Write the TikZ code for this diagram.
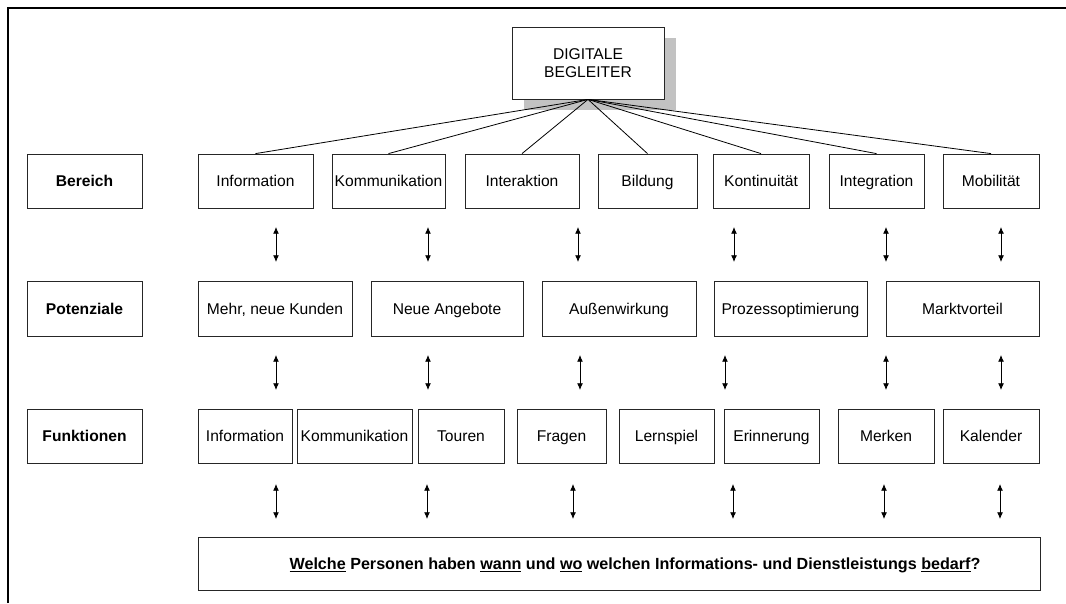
\documentclass[tikz,border=0pt]{standalone}
\usepackage{fontspec}
\setmainfont{Liberation Sans}
\usetikzlibrary{arrows.meta,shadows}
\begin{document}
\begin{tikzpicture}[x=0.75pt,y=-0.75pt,
  box/.style={draw=black!85,line width=0.6pt,fill=white,inner sep=0pt,
    text height=9pt,text depth=0.6pt,font=\fontsize{11.7}{14}\selectfont},
  link/.style={draw=black,line width=0.6pt},
  dbl/.style={draw=black,line width=0.6pt,{Latex[length=5pt,width=4.4pt]}-{Latex[length=5pt,width=4.4pt]}},
  frame/.style={draw=black,line width=1.1pt}]
\useasboundingbox (0,0) rectangle (1066,603);
% box from corner (x1,y1) to corner (x2,y2)
\newcommand\bx[7][]{\node[box,#1,minimum width={0.75pt*(#5-#3)},minimum height={0.75pt*(#6-#4)}]
  (#2) at ({(#3+#5)/2},{(#4+#6)/2}) {#7};}

% outer frame
\draw[frame] (8,603) -- (8,8) -- (1066,8);

% root
\bx[align=center,text height=,text depth=,font=\fontsize{11.7}{13.5}\selectfont,
  drop shadow={shadow xshift=9pt,shadow yshift=-8.25pt,fill=black!24,opacity=1}]
  {root}{512}{27}{664}{99}{DIGITALE\\BEGLEITER}

% row labels
\bx[font=\fontsize{11.7}{14}\selectfont\bfseries]{lb}{27}{154}{142}{208}{Bereich}
\bx[font=\fontsize{11.7}{14}\selectfont\bfseries]{lp}{27}{281}{142}{336}{Potenziale}
\bx[font=\fontsize{11.7}{14}\selectfont\bfseries]{lf}{27}{409}{142}{463}{Funktionen}

% Bereich
\bx{b1}{198}{154}{313}{208}{Information}
\bx{b2}{332}{154}{445}{208}{Kommunikation}
\bx{b3}{465}{154}{579}{208}{Interaktion}
\bx{b4}{598}{154}{697}{208}{Bildung}
\bx{b5}{713}{154}{809}{208}{Kontinuität}
\bx{b6}{829}{154}{924}{208}{Integration}
\bx{b7}{943}{154}{1039}{208}{Mobilität}

\foreach \n in {b1,b2,b3,b4,b5,b6,b7} \draw[link] (root.south) -- (\n.north);

% Potenziale
\bx{p1}{198}{281}{352}{336}{Mehr, neue Kunden}
\bx{p2}{371}{281}{523}{336}{Neue Angebote}
\bx{p3}{542}{281}{696}{336}{Außenwirkung}
\bx{p4}{714}{281}{867}{336}{Prozessoptimierung}
\bx{p5}{886}{281}{1039}{336}{Marktvorteil}

% Funktionen
\bx{f1}{198}{409}{292}{463}{Information}
\bx{f2}{297}{409}{412}{463}{Kommunikation}
\bx{f3}{418}{409}{504}{463}{Touren}
\bx{f4}{517}{409}{606}{463}{Fragen}
\bx{f5}{619}{409}{714}{463}{Lernspiel}
\bx{f6}{724}{409}{819}{463}{Erinnerung}
\bx{f7}{838}{409}{934}{463}{Merken}
\bx{f8}{943}{409}{1039}{463}{Kalender}

% question
\bx[font=\fontsize{12.1}{14}\selectfont\bfseries]{q}{198}{537}{1040}{590}
  {\hspace*{24pt}\underline{Welche} Personen haben \underline{wann} und \underline{wo} welchen Informations- und Dienstleistungs \underline{bedarf}?}

% two-headed arrows between the rows
\foreach \i/\x in {1/276,2/428,3/578,4/734,5/886,6/1001}{
  \coordinate (u\i) at (\x,227); \coordinate (v\i) at (\x,262);
  \draw[dbl] (u\i) -- (v\i);}
\foreach \i/\x in {1/276,2/428,3/580,4/725,5/886,6/1001}{
  \coordinate (s\i) at (\x,355); \coordinate (t\i) at (\x,390);
  \draw[dbl] (s\i) -- (t\i);}
\foreach \i/\x in {1/276,2/427,3/573,4/733,5/884,6/1000}{
  \coordinate (m\i) at (\x,484); \coordinate (n\i) at (\x,519);
  \draw[dbl] (m\i) -- (n\i);}
\end{tikzpicture}
\end{document}
